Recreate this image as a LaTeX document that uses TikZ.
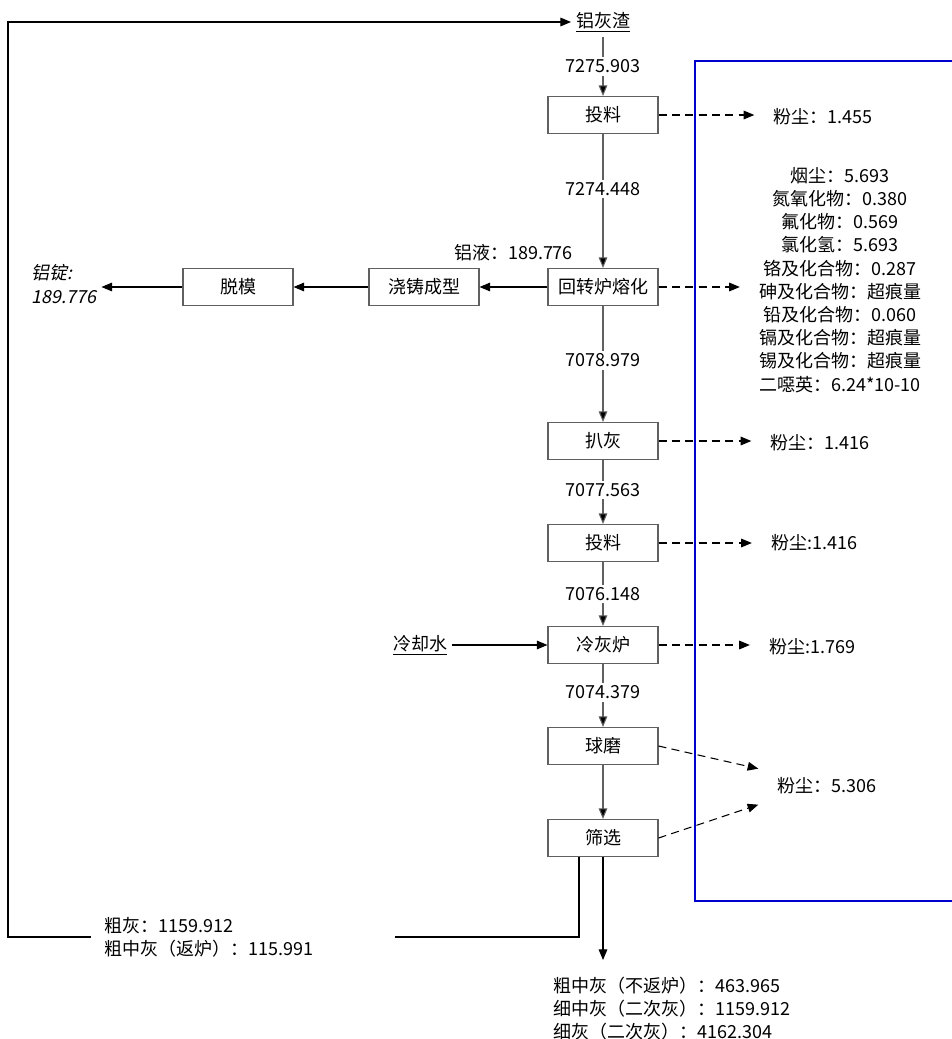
\documentclass[tikz,border=0pt]{standalone}
\usepackage{fontspec}
\setmainfont{Noto Sans CJK SC}
\newfontfamily\slantcjk[FakeSlant=0.2]{Noto Sans CJK SC}
\usetikzlibrary{positioning,arrows.meta}

\begin{document}
\begin{tikzpicture}[x=0.75pt, y=-0.75pt, line width=0.8pt,
  font=\fontsize{13.5}{17.4}\selectfont,
  proc/.style={draw=gray!75!black, minimum width=82.5pt, minimum height=27.75pt, inner sep=0pt},
  flow/.style={fill=white, inner sep=2pt},
  vline/.style={draw=gray!75!black, -{Triangle[length=8pt,width=6.5pt,fill=black]}},
  arr/.style={-{Triangle[length=8pt,width=6.5pt]}},
  dust/.style={dash pattern=on 6pt off 4pt, -{Triangle[length=8pt,width=6.5pt]}},
  note/.style={align=center, inner xsep=14pt, inner ysep=3pt}]
  \useasboundingbox (0,0) rectangle (952,1039);
  % 排放源框
  \draw[blue!80!black, line width=0.9pt] (952,61) -- (695,61) -- (695,901) -- (952,901);
  % 主流程
  \node (ash) at (603,22) {\underline{铝灰渣}};
  \node[proc] (feed1) at (603,115) {投料};
  \node[proc] (melt) at (603,287) {回转炉熔化};
  \node[proc] (rake) at (603,441) {扒灰};
  \node[proc] (feed2) at (603,543) {投料};
  \node[proc] (cool) at (603,645) {冷灰炉};
  \node[proc] (mill) at (603,746) {球磨};
  \node[proc] (sieve) at (603,838) {筛选};
  \node[proc] (cast) at (424,287) {浇铸成型};
  \node[proc] (demold) at (238,287) {脱模};
  \node[align=left, font=\slantcjk\fontsize{13.5}{17.4}\selectfont] (ingot) at (64,284) {铝锭:\\189.776};
  \node (water) at (420,645) {\underline{冷却水}};
  % 排放
  \node[note] (dust1) at (823,117) {粉尘：1.455};
  \node[note] (gas) at (840,280) {烟尘：5.693\\氮氧化物：0.380\\氟化物：0.569\\氯化氢：5.693\\铬及化合物：0.287\\砷及化合物：超痕量\\铅及化合物：0.060\\镉及化合物：超痕量\\锡及化合物：超痕量\\二噁英：6.24*10-10};
  \node[note] (dust2) at (820,443) {粉尘：1.416};
  \node[note] (dust3) at (814,543) {粉尘:1.416};
  \node[note] (dust4) at (812,647) {粉尘:1.769};
  \node[note] (dust5) at (827,786) {粉尘：5.306};
  % 物料流
  \draw[vline] (ash) -- node[flow]{7275.903} (feed1);
  \draw[vline] (feed1) -- node[flow, pos=0.41]{7274.448} (melt);
  \draw[vline] (melt) -- node[flow, pos=0.47]{7078.979} (rake);
  \draw[vline] (rake) -- node[flow, pos=0.47]{7077.563} (feed2);
  \draw[vline] (feed2) -- node[flow]{7076.148} (cool);
  \draw[vline] (cool) -- node[flow, pos=0.45]{7074.379} (mill);
  \draw[vline] (mill) -- (sieve);
  \draw[arr] (melt) -- node[above=16pt]{铝液：189.776} (cast);
  \draw[arr] (cast) -- (demold);
  \draw[arr] (demold) -- (demold -| ingot.east);
  \draw[arr] (water) -- (cool);
  \draw[dust] (feed1.east) -- (feed1.east -| dust1.west);
  \draw[dust] (melt.east) -- (melt.east -| gas.west);
  \draw[dust] (rake.east) -- (rake.east -| dust2.west);
  \draw[dust] (feed2.east) -- (feed2.east -| dust3.west);
  \draw[dust] (cool.east) -- (cool.east -| dust4.west);
  \draw[dust] (mill.east) -- ([yshift=13pt]dust5.west);
  \draw[dust] (sieve.east) -- ([yshift=-14pt]dust5.west);
  % 返炉
  \coordinate (loopL) at (8,937);
  \draw[arr] ([xshift=-18pt]sieve.south) |- (loopL) |- (ash.west);
  \node[fill=white, align=left, anchor=west, text width=207pt, inner xsep=10.5pt] (coarse) at (90,937) {粗灰：1159.912\\粗中灰（返炉）：115.991};
  % 产品
  \coordinate (outEnd) at (603,960);
  \draw[arr] (sieve) -- (outEnd);
  \node[align=left, anchor=north west] (fine) at (549,972) {粗中灰（不返炉）：463.965\\细中灰（二次灰）：1159.912\\细灰（二次灰）：4162.304};
\end{tikzpicture}
\end{document}
